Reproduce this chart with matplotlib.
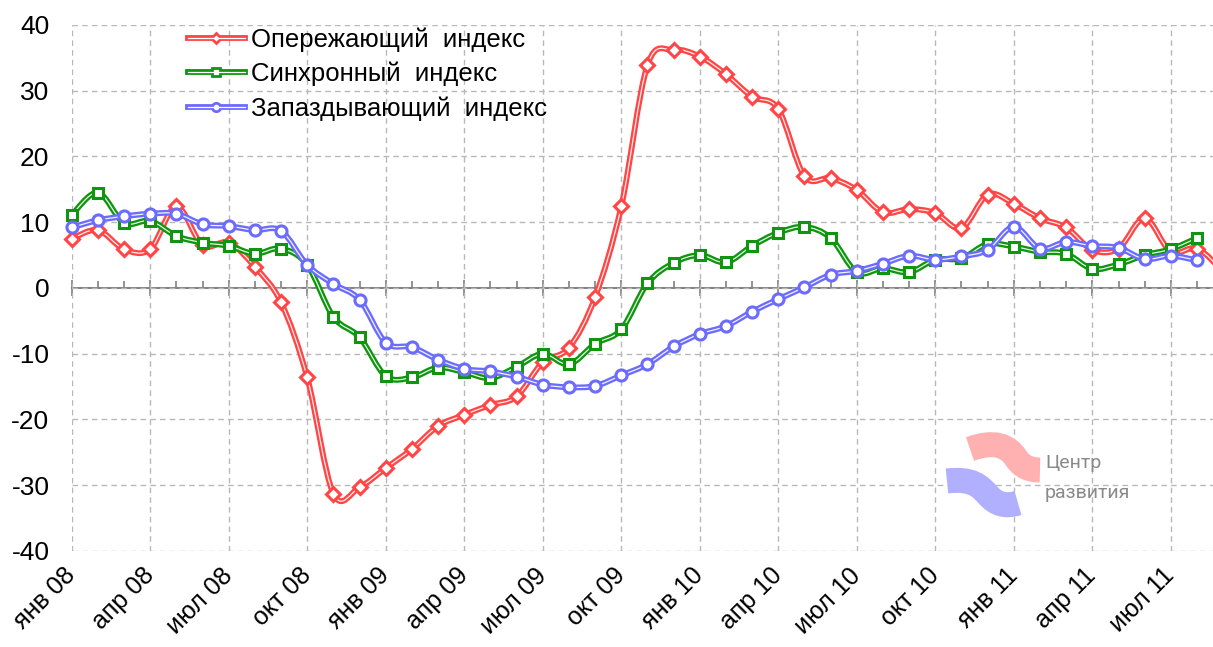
import numpy as np
import matplotlib.pyplot as plt
from matplotlib.path import Path
from matplotlib.patches import PathPatch
from matplotlib.lines import Line2D

plt.rcParams['font.family'] = ['Liberation Sans', 'DejaVu Sans']
plt.rcParams['axes.unicode_minus'] = False

# monthly values, Jan 2008 onwards
leading = [7.5, 8.8, 5.9, 5.9, 12.4, 6.5, 6.9, 3.2, -2.2, -13.6, -31.3, -30.3,
           -27.4, -24.5, -21.0, -19.3, -17.8, -16.5, -11.3, -9.1, -1.4, 12.4, 33.9, 36.2,
           35.2, 32.5, 29.1, 27.2, 17.0, 16.7, 14.9, 11.5, 12.0, 11.4, 9.1, 14.2,
           12.8, 10.6, 9.2, 5.8, 6.0, 10.6, 5.5, 6.0, 2.5]
coincident = [11.1, 14.5, 9.9, 10.2, 7.9, 6.9, 6.4, 5.2, 6.0, 3.5, -4.4, -7.5,
              -13.4, -13.6, -12.1, -12.8, -13.7, -12.0, -10.0, -11.6, -8.5, -6.3, 0.7, 3.8,
              5.0, 3.9, 6.4, 8.4, 9.3, 7.6, 2.4, 3.0, 2.4, 4.3, 4.5, 6.7,
              6.3, 5.5, 5.2, 2.9, 3.6, 5.0, 5.9, 7.6]
lagging = [9.2, 10.3, 10.9, 11.3, 11.3, 9.7, 9.4, 8.8, 8.7, 3.5, 0.6, -1.8,
           -8.3, -9.0, -10.9, -12.3, -12.7, -13.5, -14.7, -15.1, -14.9, -13.3, -11.6, -8.9,
           -7.0, -5.8, -3.6, -1.7, 0.1, 2.0, 2.6, 3.7, 4.9, 4.3, 4.8, 5.8,
           9.3, 6.0, 7.0, 6.4, 6.1, 4.4, 4.9, 4.2]
tick_labels = ['янв 08', 'апр 08', 'июл 08', 'окт 08', 'янв 09', 'апр 09', 'июл 09', 'окт 09',
               'янв 10', 'апр 10', 'июл 10', 'окт 10', 'янв 11', 'апр 11', 'июл 11']
names = ['Опережающий  индекс', 'Синхронный  индекс', 'Запаздывающий  индекс']


def smooth_path(x, y):
    # excel-like smoothed line (catmull-rom as bezier)
    pts = np.column_stack([x, y]).astype(float)
    n = len(pts)
    verts = [pts[0]]
    codes = [Path.MOVETO]
    for i in range(n - 1):
        p0 = pts[i - 1] if i > 0 else pts[i]
        p1, p2 = pts[i], pts[i + 1]
        p3 = pts[i + 2] if i + 2 < n else pts[i + 1]
        verts += [p1 + (p2 - p0) / 6, p2 - (p3 - p1) / 6, p2]
        codes += [Path.CURVE4] * 3
    return Path(verts, codes)


fig = plt.figure(figsize=(12.13, 6.47), dpi=100)
ax = fig.add_axes([0.0591, 0.1484, 0.9409, 0.8130])
for s in ax.spines.values():
    s.set_visible(False)

grid_c = '#b8b8b8'
ax.set_xlim(0, 43.61)
ax.set_ylim(-40, 40)
ax.set_yticks(range(-40, 41, 10))
ax.set_xticks(range(0, 43, 3))
ax.set_xticklabels(tick_labels, rotation=45, ha='right', va='center',
                   rotation_mode='anchor', fontsize=18)
ax.tick_params(axis='x', length=0, pad=15)
ax.tick_params(axis='y', length=0, pad=16, labelsize=19)
ax.grid(True, color=grid_c, ls=(0, (4, 3)), lw=1)

# zero axis with month ticks
sec = ax.secondary_xaxis(0.49999)
sec.set_xticks(range(0, 43, 3))
sec.set_xticks(range(44), minor=True)
sec.tick_params(which='both', labelbottom=False, labeltop=False, color='#808080', width=1.2)
sec.tick_params(which='major', direction='inout', length=11)
sec.tick_params(which='minor', direction='in', length=5)
for s in sec.spines.values():
    s.set_color('#808080')
    s.set_linewidth(1.4)

series = [(leading, '#ff4545', 'D', 7.5),
          (coincident, '#0f960f', 's', 7.5),
          (lagging, '#6b6bff', 'o', 8)]
handles = []
for k, (vals, color, mk, ms) in enumerate(series):
    x = np.arange(len(vals))
    path = smooth_path(x, vals)
    z = 3 + k
    ax.add_patch(PathPatch(path, fill=False, ec=color, lw=4.2, clip_on=False, zorder=z,
                           joinstyle='round', capstyle='round'))
    ax.add_patch(PathPatch(path, fill=False, ec='white', lw=0.9, alpha=0.9, clip_on=False,
                           zorder=z + 0.1))
    ax.plot(x, vals, ls='none', marker=mk, ms=ms, mfc='white', mec=color, mew=2.2,
            clip_on=False, zorder=z + 0.2)
    h1 = Line2D([], [], color=color, lw=4.2, marker=mk, ms=ms - 2, mfc='white', mec=color, mew=2)
    h2 = Line2D([], [], color='white', lw=0.9)
    handles.append((h1, h2))

ax.set_xlim(0, 43.61)
ax.set_ylim(-40, 40)

fig.legend(handles, names, loc='upper left', bbox_to_anchor=(188 / 1213, 1 - 27 / 647),
           frameon=False, fontsize=18.5, handlelength=2.2, handletextpad=0.25,
           labelspacing=0.4, borderpad=0, borderaxespad=0)

# "Центр развития" logo
def px(xp, yp):
    return (xp / 1213, 1 - yp / 647)

red_logo = Path([px(970, 449), px(995, 440), px(1008, 446), px(1016, 458),
                 px(1022, 467), px(1030, 470), px(1040, 470)],
                [Path.MOVETO, Path.CURVE4, Path.CURVE4, Path.CURVE4,
                 Path.CURVE4, Path.CURVE4, Path.CURVE4])
blue_logo = Path([px(947, 481), px(972, 478), px(980, 486), px(988, 495),
                  px(996, 504), px(1005, 507), px(1018, 503)],
                 [Path.MOVETO, Path.CURVE4, Path.CURVE4, Path.CURVE4,
                  Path.CURVE4, Path.CURVE4, Path.CURVE4])
fig.add_artist(PathPatch(red_logo, fill=False, ec='#ffb0b0', lw=18, capstyle='butt',
                         transform=fig.transFigure, zorder=1))
fig.add_artist(PathPatch(blue_logo, fill=False, ec='#b0b0ff', lw=18, capstyle='butt',
                         transform=fig.transFigure, zorder=1))
fig.text(1045 / 1213, 1 - 463 / 647, 'Центр', color='#8a8a8a', fontsize=14,
         family='Roboto', va='center', ha='left')
fig.text(1045 / 1213, 1 - 493 / 647, 'развития', color='#8a8a8a', fontsize=14,
         family='Roboto', va='center', ha='left')

fig.savefig('out.png', dpi=100)
